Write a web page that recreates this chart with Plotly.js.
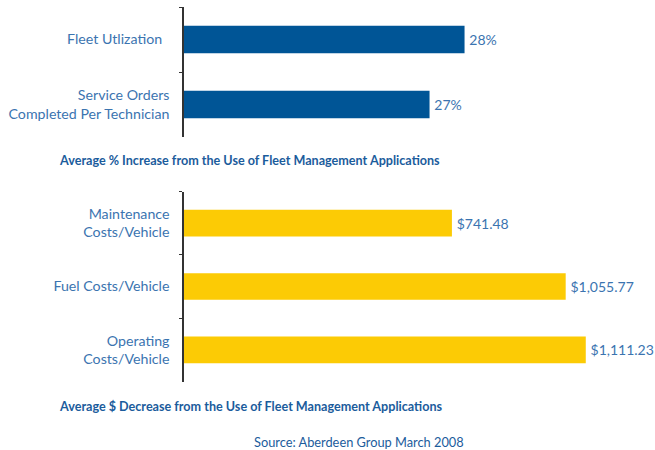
<!DOCTYPE html>
<html>
<head>
<meta charset="utf-8">
<script src="https://cdn.plot.ly/plotly-3.0.1.min.js"></script>
<style>html,body{margin:0;padding:0;background:#fff;}#chart{width:655px;height:450px;}</style>
</head>
<body>
<div id="chart"></div>
<script>
// Data
var increaseCategories = ["Fleet Utlization\u00a0\u00a0", "Service Orders<br>Completed Per Technician"];
var increaseValues = [28, 27];
var decreaseCategories = ["Maintenance<br>Costs/Vehicle", "Fuel Costs/Vehicle", "Operating<br>Costs/Vehicle"];
var decreaseValues = [741.48, 1055.77, 1111.23];
var increaseTitle = "Average % Increase from the Use of Fleet Management Applications";
var decreaseTitle = "Average $ Decrease from the Use of Fleet Management Applications";
var sourceText = "Source: Aberdeen Group March 2008";

var W = 655, H = 450;
var FONT = "Lato, Open Sans, sans-serif";
var labelColor = "#3b74b0";
var titleColor = "#1b5c9c";

function px(x){ return x / W; }
function py(y){ return 1 - y / H; }

var traces = [
  {
    type: "bar", orientation: "h",
    x: increaseValues, y: increaseCategories,
    xaxis: "x", yaxis: "y",
    marker: {color: "#005596"},
    texttemplate: "\u2009%{x}%", textposition: "outside",
    textfont: {family: FONT, size: 14, color: labelColor},
    cliponaxis: false, hoverinfo: "none"
  },
  {
    type: "bar", orientation: "h",
    x: decreaseValues, y: decreaseCategories,
    xaxis: "x2", yaxis: "y2",
    marker: {color: "#fccb05"},
    texttemplate: "\u2009$%{x:,.2f}", textposition: "outside",
    textfont: {family: FONT, size: 14, color: labelColor},
    cliponaxis: false, hoverinfo: "none"
  }
];

var yCommon = {
  type: "category", autorange: "reversed",
  showline: true, linecolor: "#333", linewidth: 1.2,
  ticks: "outside", tickson: "boundaries", ticklen: 3, tickcolor: "#333",
  ticklabelstandoff: 10,
  tickfont: {family: FONT, size: 14.2, color: labelColor},
  showgrid: false, zeroline: false, fixedrange: true
};

var layout = {
  width: W, height: H,
  margin: {l: 0, r: 0, t: 0, b: 0},
  paper_bgcolor: "#fff", plot_bgcolor: "#fff",
  showlegend: false,
  xaxis: {domain: [px(183.5), 1], range: [19.97, 19.97 + 471.5/35], visible: false, fixedrange: true},
  yaxis: Object.assign({}, yCommon, {domain: [py(137), py(7)], anchor: "x"}),
  xaxis2: {domain: [px(183.5), 1], range: [0, 471.5/0.362], visible: false, fixedrange: true, anchor: "y2"},
  yaxis2: Object.assign({}, yCommon, {domain: [py(381.5), py(191.5)], anchor: "x2"}),
  annotations: [
    {text: "<b>" + increaseTitle + "</b>", xref: "paper", yref: "paper", x: px(57), y: py(160),
     xanchor: "left", yanchor: "middle", showarrow: false, font: {family: FONT, size: 12.6, color: titleColor}},
    {text: "<b>" + decreaseTitle.replace("$", "&#36;") + "</b>", xref: "paper", yref: "paper", x: px(57), y: py(406),
     xanchor: "left", yanchor: "middle", showarrow: false, font: {family: FONT, size: 12.6, color: titleColor}},
    {text: sourceText, xref: "paper", yref: "paper", x: px(252), y: py(442),
     xanchor: "left", yanchor: "middle", showarrow: false, font: {family: FONT, size: 12.8, color: titleColor}}
  ]
};

// per-subplot bar gaps via width fraction (band 65 / 63.3 px, bar 27 px)
layout.bargap = 0.58;

Plotly.newPlot("chart", traces, layout, {staticPlot: true, displayModeBar: false});
</script>
</body>
</html>
